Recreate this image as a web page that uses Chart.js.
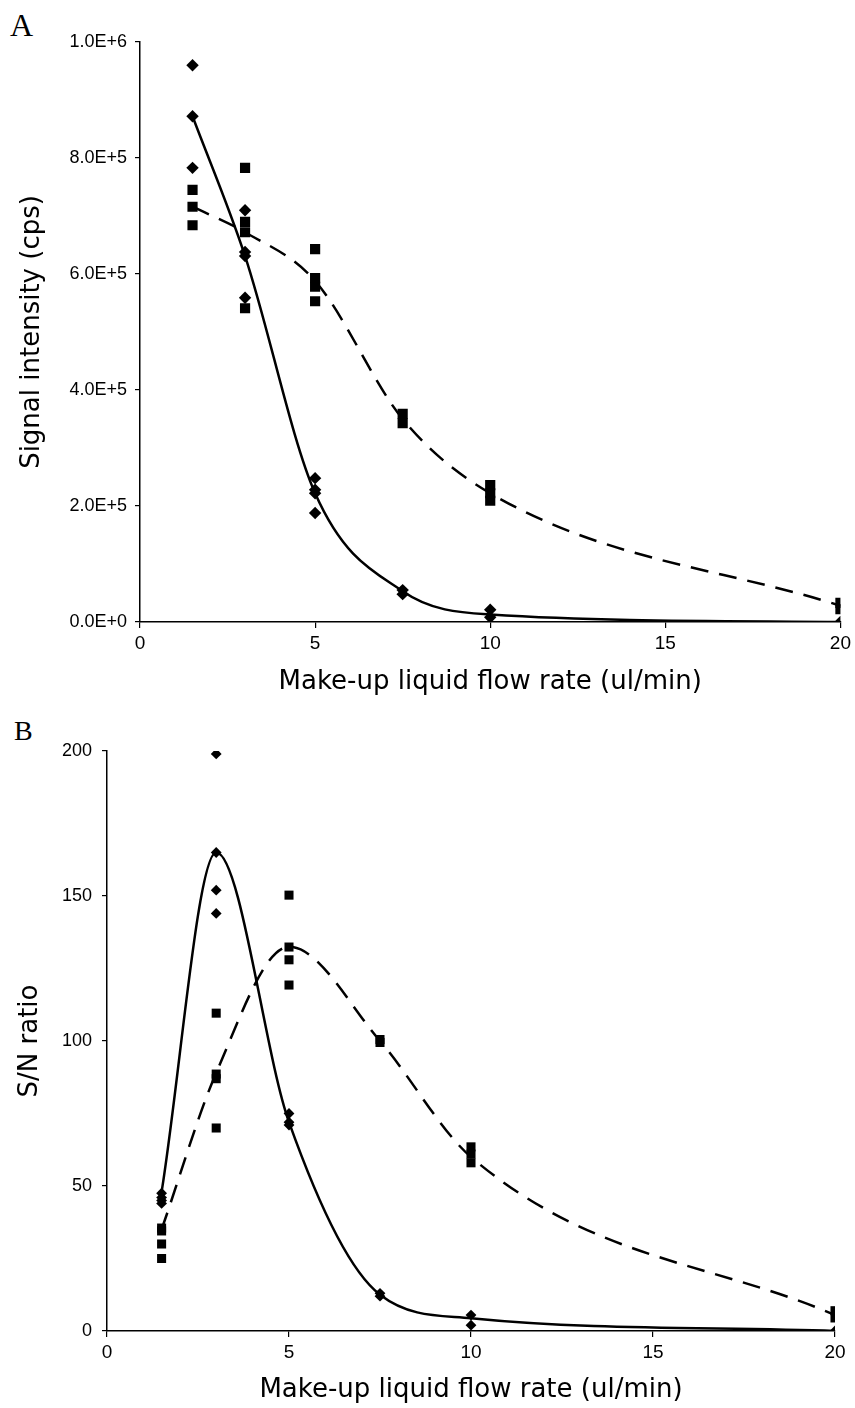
<!DOCTYPE html>
<html>
<head>
<meta charset="utf-8">
<script src="https://cdn.jsdelivr.net/npm/chart.js@4.4.1/dist/chart.umd.min.js"></script>
<style>
  body { margin: 0; background: #fff; width: 855px; height: 1408px; position: relative; overflow: hidden; }
  canvas { position: absolute; left: 0; }
  .panel { position: absolute; font-family: "Liberation Serif", "Times New Roman", serif; color: #000; line-height: 1; }
</style>
</head>
<body>
<div class="panel" style="left:10px; top:9px; font-size:32px;">A</div>
<div class="panel" style="left:14px; top:717px; font-size:28px;">B</div>
<canvas id="chartA" width="855" height="700" style="top:0"></canvas>
<canvas id="chartB" width="855" height="708" style="top:700px"></canvas>
<script>
// flow rates (ul/min) shared by both panels
const flowRates = [1.5, 3, 5, 7.5, 10, 20];

// panel A - signal intensity (cps), replicate points per flow rate
const signalDiamondReps = [
    [960000, 872000, 783000],
    [710000, 638000, 631000, 559000],
    [248000, 228000, 222000, 188000],
    [55000, 48000],
    [21000, 8000],
    [0]
];
const signalSquareReps = [
    [745000, 716000, 684000],
    [783000, 690000, 672000, 541000],
    [643000, 593000, 578000, 553000],
    [359000, 343000],
    [236000, 222000, 209000],
    [33000, 22000]
];
const signalSolidCurve = [872000, 631000, 222000, 53000, 13000, 0];
const signalDashedCurve = [716000, 672000, 588000, 350000, 222000, 28000];
const signalTicks = [0, 200000, 400000, 600000, 800000, 1000000];

// panel B - S/N ratio
const snDiamondReps = [
    [47.5, 46, 45, 44],
    [199, 165, 152, 144],
    [75, 72, 71],
    [13, 12],
    [5.5, 2],
    [0]
];
const snSquareReps = [
    [35.5, 34.5, 30, 25],
    [109.6, 88.6, 87, 70],
    [150.3, 132.4, 128, 119.3],
    [100.5, 99.5],
    [63.5, 61, 58],
    [7, 4.5]
];
const snSolidCurve = [48, 165, 72, 12.5, 4.4, 0];
const snDashedCurve = [35, 89, 132.5, 100, 60, 5.5];

function repPoints(reps) {
    const pts = [];
    reps.forEach((vals, i) => vals.forEach(v => pts.push({ x: flowRates[i], y: v })));
    return pts;
}
function curvePoints(vals) {
    return vals.map((v, i) => ({ x: flowRates[i], y: v }));
}

function makeChart(canvas, cfg) {
    const black = '#000';
    return new Chart(canvas, {
        type: 'scatter',
        data: {
            datasets: [
                {
                    data: curvePoints(cfg.solid), showLine: true, borderColor: black, borderWidth: 2.5,
                    pointRadius: 0, cubicInterpolationMode: 'monotone', fill: false
                },
                {
                    data: curvePoints(cfg.dashed), showLine: true, borderColor: black, borderWidth: 2.5,
                    borderDash: [18, 11], pointRadius: 0, cubicInterpolationMode: 'monotone', fill: false
                },
                {
                    data: repPoints(cfg.diamonds), pointStyle: 'rectRot', pointRadius: cfg.diamondR,
                    backgroundColor: black, borderWidth: 0, showLine: false
                },
                {
                    data: repPoints(cfg.squares), pointStyle: 'rect', pointRadius: cfg.squareR,
                    backgroundColor: black, borderWidth: 0, showLine: false
                }
            ]
        },
        options: {
            responsive: false,
            animation: false,
            layout: { padding: cfg.padding },
            plugins: { legend: { display: false }, tooltip: { enabled: false } },
            scales: {
                x: {
                    type: 'linear', min: 0, max: 20,
                    afterFit: s => { s.height = cfg.xHeight; },
                    border: { color: black, width: 1.5 },
                    grid: { drawOnChartArea: false, drawTicks: true, tickLength: 6, color: black, lineWidth: 1.2 },
                    ticks: { stepSize: 5, color: black, padding: 4, font: { family: 'Liberation Sans', size: 19 } },
                    title: {
                        display: true, text: 'Make-up liquid flow rate (ul/min)', color: black,
                        font: { family: 'DejaVu Sans', size: 26 }, padding: { top: 0, bottom: 2 }
                    }
                },
                y: {
                    min: 0, max: cfg.yMax,
                    afterFit: s => { s.width = cfg.yWidth; },
                    afterBuildTicks: cfg.yTicks ? (s => { s.ticks = cfg.yTicks.map(v => ({ value: v })); }) : undefined,
                    border: { color: black, width: 1.5 },
                    grid: { drawOnChartArea: false, drawTicks: true, tickLength: 5, color: black, lineWidth: 1.2 },
                    ticks: {
                        stepSize: cfg.yStep, color: black, padding: cfg.yPad,
                        font: { family: 'Liberation Sans', size: cfg.yFont },
                        callback: cfg.yFormat
                    },
                    title: {
                        display: true, text: cfg.yTitle, color: black,
                        font: { family: 'DejaVu Sans', size: 26 }, padding: { top: cfg.yTitlePad, bottom: 0 }
                    }
                }
            }
        }
    });
}

makeChart(document.getElementById('chartA'), {
    solid: signalSolidCurve, dashed: signalDashedCurve,
    diamonds: signalDiamondReps, squares: signalSquareReps,
    diamondR: 6.2, squareR: 7.2,
    padding: { top: 42, right: 14, left: 0, bottom: 0 },
    xHeight: 78, yWidth: 140, yMax: 1000000, yStep: 200000, yTicks: signalTicks,
    yPad: 8, yFont: 18, yTitlePad: 17,
    yTitle: 'Signal intensity (cps)',
    yFormat: v => Number(v).toExponential(1).toUpperCase()
});

makeChart(document.getElementById('chartB'), {
    solid: snSolidCurve, dashed: snDashedCurve,
    diamonds: snDiamondReps, squares: snSquareReps,
    diamondR: 5.4, squareR: 6.4,
    padding: { top: 51, right: 20, left: 0, bottom: 0 },
    xHeight: 77, yWidth: 107, yMax: 200, yStep: 50,
    yPad: 10, yFont: 18, yTitlePad: 15,
    yTitle: 'S/N ratio',
    yFormat: v => v
});
</script>
</body>
</html>
